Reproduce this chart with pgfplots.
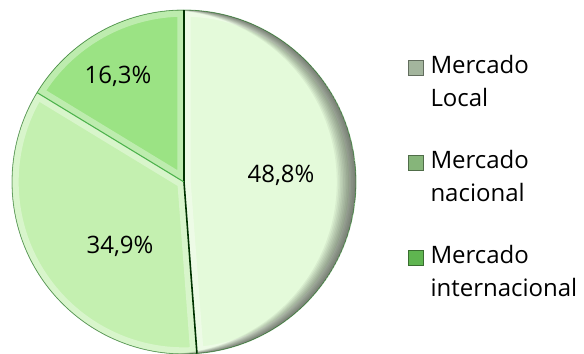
\documentclass[border=0pt]{standalone}
\usepackage{pgfplots}
\pgfplotsset{compat=1.18}
\usepackage{pgfplotstable}
\usepackage{fontspec}
\setmainfont{Open Sans}

\definecolor{sliceA}{HTML}{E4FADA}
\definecolor{sliceB}{HTML}{C4F0B0}
\definecolor{sliceC}{HTML}{9BE384}
\definecolor{keyA}{HTML}{A3B59D}
\definecolor{keyB}{HTML}{86B57A}
\definecolor{keyC}{HTML}{5FB550}

% share in %, label position (px, y up)
\pgfplotstableread{
value lx ly
48.8 281 178
34.9 120 107
16.3 118 277
}\piedata

\def\cx{184}\def\cy{171}\def\rr{129pt}
\newcommand\slicepath[2]{(axis cs:\cx,\cy) -- ++(#1:\rr) arc[start angle=#1, end angle=#2, radius=\rr] -- cycle}

\begin{document}
\begin{tikzpicture}
\begin{axis}[
  scale only axis, width=438pt, height=264.75pt,
  xmin=0, xmax=584, ymin=0, ymax=353,
  hide axis,
  /pgf/number format/assume math mode=true,
  legend cell align=left,
  legend style={draw=none, fill=none, at={(axis cs:407.7,303)}, anchor=north west,
    inner sep=0pt, font=\fontsize{18}{24.75}\selectfont, row sep=52.5pt, column sep=0pt,
    nodes={inner sep=0pt}, cells={anchor=base west}},
  legend image code/.code={\draw[line width=0.4pt,#1] (0pt,-1.2pt) rectangle (11pt,10pt);},
]
\addlegendimage{fill=keyA, draw=keyA!60!black}
\addlegendentry{\hspace{5.5pt}\begin{tabular}[t]{@{}l@{}}Mercado\\Local\end{tabular}}
\addlegendimage{fill=keyB, draw=keyB!60!black}
\addlegendentry{\hspace{5.5pt}\begin{tabular}[t]{@{}l@{}}Mercado\\nacional\end{tabular}}
\addlegendimage{fill=keyC, draw=keyC!60!black}
\addlegendentry{\hspace{5.5pt}\begin{tabular}[t]{@{}l@{}}Mercado\\internacional\end{tabular}}

\pgfplotsextra{
  \def\angA{90}
  \pgfplotsforeachungrouped \i in {0,1,2}{
    \pgfplotstablegetelem{\i}{value}\of\piedata \let\val\pgfplotsretval
    \pgfmathsetmacro\angB{\angA-3.6*\val}
    \ifcase\i \def\col{sliceA}\or\def\col{sliceB}\or\def\col{sliceC}\fi
    \fill[\col] \slicepath{\angA}{\angB};
    \begin{scope}
      \clip \slicepath{\angA}{\angB};
      \draw[white, opacity=.35, line width=10pt, line join=round] \slicepath{\angA}{\angB};
    \end{scope}
    \global\let\angA\angB
  }
  % rim darkening, strongest on the right
  \begin{scope}
    \clip (axis cs:\cx,\cy) circle[radius=\rr];
    \foreach \k in {1,...,12}{
      \fill[black, opacity=0.05, even odd rule] (axis cs:\cx,\cy) circle[radius=\rr]
        ([xshift=-\k*1.2pt]axis cs:\cx,\cy) circle[radius=\rr];
    }
  \end{scope}
  \draw[black!60!green, opacity=.5, line width=0.6pt] (axis cs:\cx,\cy) circle[radius=\rr];
  % slice borders
  \draw[black!80!green, line width=1.4pt] (axis cs:\cx,\cy) -- ++(90:\rr);
  \draw[black!80!green, line width=1.2pt] (axis cs:\cx,\cy) -- ++(90-3.6*48.8:\rr);
  \draw[gray!60!green, line width=0.8pt] (axis cs:\cx,\cy) -- ++(90-3.6*48.8-3.6*34.9:\rr);
  \pgfplotsforeachungrouped \i in {0,1,2}{
    \pgfplotstablegetelem{\i}{value}\of\piedata \let\val\pgfplotsretval
    \pgfplotstablegetelem{\i}{lx}\of\piedata \let\lx\pgfplotsretval
    \pgfplotstablegetelem{\i}{ly}\of\piedata \let\ly\pgfplotsretval
    \node[font=\fontsize{18}{21}\selectfont] at (axis cs:\lx,\ly)
      {\pgfmathprintnumber[fixed, precision=1, fixed zerofill, use comma]{\val}\%};
  }
}
\end{axis}
\pgfresetboundingbox
\path (0,0) rectangle (438pt,264.75pt);
\end{tikzpicture}
\end{document}
